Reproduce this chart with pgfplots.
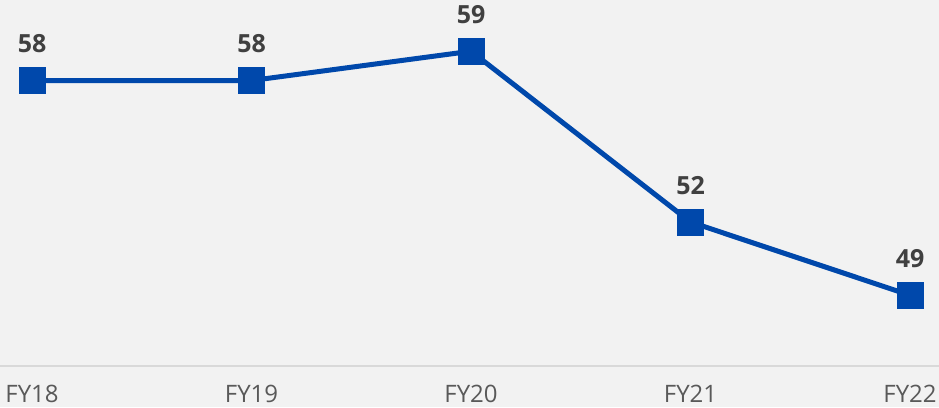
\documentclass[border=0pt]{standalone}
\usepackage{fontspec}
\setmainfont{Open Sans}
\usepackage{pgfplots}
\pgfplotsset{compat=1.18}
\usetikzlibrary{calc,backgrounds}

\definecolor{bgc}{HTML}{F2F2F2}
\definecolor{lineblue}{HTML}{0048AB}
\definecolor{axisgray}{HTML}{D9D9D9}
\definecolor{ticktext}{HTML}{595959}
\definecolor{labeltext}{HTML}{404040}

\begin{document}
\begin{tikzpicture}
\begin{axis}[
    name=ax,
    scale only axis,
    width=469.5pt, height=183pt,
    xmin=-0.146, xmax=4.132,
    ymin=46.1, ymax=61.1,
    axis y line=none,
    axis x line*=bottom,
    x axis line style={draw=axisgray, line width=1pt, -},
    major tick length=0pt,
    xtick={0,1,2,3,4},
    xticklabels={FY18,FY19,FY20,FY21,FY22},
    xticklabel style={font=\fontsize{12}{14}\selectfont, text=ticktext,
        anchor=north, inner sep=0pt, yshift=-9.5pt},
    clip=false,
    point meta=explicit symbolic,
    nodes near coords,
    every node near coord/.append style={font=\fontsize{12.5}{14}\bfseries,
        text=labeltext, anchor=south, inner sep=0pt, yshift=12.5pt},
]
\addplot[color=lineblue, line width=2.5pt, mark=square*, mark size=5.5pt,
    mark options={solid, fill=lineblue, draw=none}] coordinates {
    (0,57.8) [58]
    (1,57.8) [58]
    (2,59.0) [59]
    (3,52.0) [52]
    (4,49.0) [49]
};
\end{axis}
\pgfresetboundingbox
\begin{scope}[on background layer]
\fill[bgc] ($(ax.south west)+(0,-20.5pt)$) rectangle (ax.north east);
\end{scope}
\path[use as bounding box] ($(ax.south west)+(0,-20.5pt)$) rectangle (ax.north east);
\end{tikzpicture}
\end{document}
